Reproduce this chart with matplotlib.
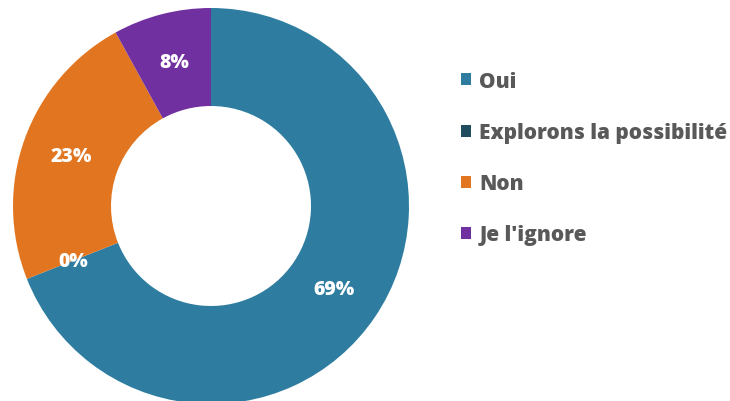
import matplotlib
matplotlib.use("Agg")
import matplotlib.pyplot as plt
from matplotlib.patches import Patch

categories = ["Oui", "Explorons la possibilité", "Non", "Je l'ignore"]
values = [69, 0, 23, 8]
colors = ["#2E7DA1", "#1F4D5E", "#E27620", "#7030A0"]

plt.rcParams['font.family'] = ['Open Sans', 'DejaVu Sans']

fig = plt.figure(figsize=(7.30, 4.02), dpi=100)
ax = fig.add_axes([13/730, (402-207-198)/402, 396/730, 396/402])
wedges, texts, autotexts = ax.pie(
    values, colors=colors, startangle=90, counterclock=False,
    radius=1.0, wedgeprops=dict(width=0.495, linewidth=0),
    autopct=lambda p: f"{p:.0f}%", pctdistance=0.75,
    textprops=dict(color="white", fontsize=14, fontweight="heavy"))
ax.set_xlim(-1, 1)
ax.set_ylim(-1, 1)
ax.set_aspect("equal")
ax.axis("off")

handles = [Patch(facecolor=c, edgecolor="none") for c in colors]
leg = fig.legend(handles, categories, loc="upper left",
                 bbox_to_anchor=(442/730, 1 - 53/402), frameon=False,
                 handlelength=0.5, handleheight=0.5, handletextpad=0.4,
                 labelspacing=1.45,
                 prop=dict(size=15, weight="heavy"))
for t in leg.get_texts():
    t.set_color("#595959")

fig.savefig("out.png", dpi=100)
